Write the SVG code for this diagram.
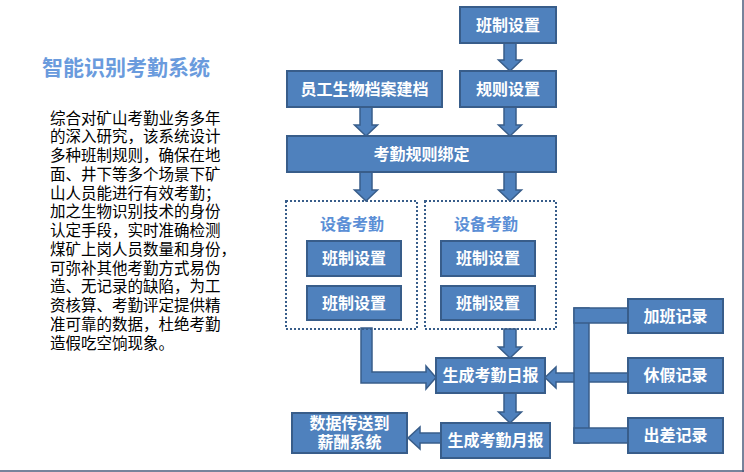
<svg xmlns="http://www.w3.org/2000/svg" width="744" height="472" viewBox="0 0 744 472">
<style>
.box{fill:#4F81BD;stroke:#385D8A;stroke-width:2}
.arr{fill:#4F81BD;stroke:#385D8A;stroke-width:1.5;stroke-linejoin:miter}
.dash{fill:none;stroke:#385D8A;stroke-width:2;stroke-dasharray:2 2}
.t{font-family:"Liberation Sans","Noto Sans CJK SC",sans-serif;font-size:16px;font-weight:bold;fill:#ffffff;text-anchor:middle;dominant-baseline:central}
.lbl{font-family:"Liberation Sans","Noto Sans CJK SC",sans-serif;font-size:16px;font-weight:bold;fill:#5B8FD6;text-anchor:middle;dominant-baseline:central}
.title{font-family:"Liberation Sans","Noto Sans CJK SC",sans-serif;font-size:21px;font-weight:bold;fill:#6A9BDD;dominant-baseline:central}
.body{font-family:"Liberation Sans","Noto Sans CJK SC",sans-serif;font-size:15.5px;fill:#000000;dominant-baseline:central}
</style>
<rect width="744" height="472" fill="#ffffff"/>
<line x1="743" y1="0" x2="743" y2="472" stroke="#4A5A7A" stroke-width="1.5"/>
<line x1="0" y1="471" x2="744" y2="471" stroke="#4A5A7A" stroke-width="1.5"/>

<g id="title">
<text class="title" x="42" y="67">智能识别考勤系统</text>
</g>
<g id="description">
<text class="body" x="50" y="118">综合对矿山考勤业务多年</text>
<text class="body" x="50" y="136.75">的深入研究，该系统设计</text>
<text class="body" x="50" y="155.5">多种班制规则，确保在地</text>
<text class="body" x="50" y="174.25">面、井下等多个场景下矿</text>
<text class="body" x="50" y="193">山人员能进行有效考勤；</text>
<text class="body" x="50" y="211.75">加之生物识别技术的身份</text>
<text class="body" x="50" y="230.5">认定手段，实时准确检测</text>
<text class="body" x="50" y="249.25">煤矿上岗人员数量和身份，</text>
<text class="body" x="50" y="268">可弥补其他考勤方式易伪</text>
<text class="body" x="50" y="286.75">造、无记录的缺陷，为工</text>
<text class="body" x="50" y="305.5">资核算、考勤评定提供精</text>
<text class="body" x="50" y="324.25">准可靠的数据，杜绝考勤</text>
<text class="body" x="50" y="343">造假吃空饷现象。</text>
</g>

<g id="connectors">
<polygon class="arr" points="504,43 516,43 516,60 521.5,60 510,71 498.5,60 504,60"/>
<polygon class="arr" points="360,107 372,107 372,125 377.5,125 366,136 354.5,125 360,125"/>
<polygon class="arr" points="504,107 516,107 516,125 521.5,125 510,136 498.5,125 504,125"/>
<polygon class="arr" points="360,172 372,172 372,190 377.5,190 366,201 354.5,190 360,190"/>
<polygon class="arr" points="504,172 516,172 516,190 521.5,190 510,201 498.5,190 504,190"/>
<polygon class="arr" points="504,329 516,329 516,347 521.5,347 510,358 498.5,347 504,347"/>
<polygon class="arr" points="504,393 516,393 516,412 521.5,412 510,423 498.5,412 504,412"/>
<polygon class="arr" points="441,433 420,433 420,427 408,438 420,449 420,443 441,443"/>
<polygon class="arr" points="361,328 372,328 372,372 426,372 426,366 436,377.5 426,389 426,383 361,383"/>
<polygon class="arr" points="628,373 556,373 556,367 545,377.5 556,388 556,382 628,382"/>
<rect class="arr" x="574" y="308" width="15" height="135"/>
<rect class="arr" x="574" y="308" width="54" height="15"/>
<rect class="arr" x="574" y="428" width="54" height="15"/>
</g>

<g id="node-banzhi-top"><rect class="box" x="460" y="7" width="96" height="36"/><text class="t" x="508" y="25">班制设置</text></g>
<g id="node-yuangong"><rect class="box" x="287" y="71" width="155" height="36"/><text class="t" x="364.5" y="89">员工生物档案建档</text></g>
<g id="node-guize"><rect class="box" x="460" y="71" width="96" height="36"/><text class="t" x="508" y="89">规则设置</text></g>
<g id="node-bangding"><rect class="box" x="287" y="136" width="269" height="36"/><text class="t" x="421.5" y="154">考勤规则绑定</text></g>

<g id="group-device-left">
<rect class="dash" x="286" y="201" width="131" height="128"/>
<text class="lbl" x="352" y="224">设备考勤</text>
<g id="node-left-1"><rect class="box" x="307" y="241" width="94" height="35"/><text class="t" x="354" y="258.5">班制设置</text></g>
<g id="node-left-2"><rect class="box" x="307" y="286" width="94" height="34"/><text class="t" x="354" y="303">班制设置</text></g>
</g>
<g id="group-device-right">
<rect class="dash" x="425" y="201" width="131" height="128"/>
<text class="lbl" x="486" y="224">设备考勤</text>
<g id="node-right-1"><rect class="box" x="441" y="241" width="94" height="35"/><text class="t" x="488" y="258.5">班制设置</text></g>
<g id="node-right-2"><rect class="box" x="441" y="286" width="94" height="34"/><text class="t" x="488" y="303">班制设置</text></g>
</g>

<g id="node-ribao"><rect class="box" x="436" y="358" width="109" height="35"/><text class="t" x="490.5" y="375.5">生成考勤日报</text></g>
<g id="node-yuebao"><rect class="box" x="441" y="423" width="109" height="35"/><text class="t" x="495.5" y="440.5">生成考勤月报</text></g>
<g id="node-shuju"><rect class="box" x="292" y="413" width="115" height="40"/><text class="t" x="349.5" y="423.5">数据传送到</text><text class="t" x="349.5" y="442">薪酬系统</text></g>
<g id="node-jiaban"><rect class="box" x="628" y="299" width="95" height="34"/><text class="t" x="675.5" y="316">加班记录</text></g>
<g id="node-xiujia"><rect class="box" x="628" y="358" width="95" height="35"/><text class="t" x="675.5" y="375.5">休假记录</text></g>
<g id="node-chuchai"><rect class="box" x="628" y="418" width="95" height="35"/><text class="t" x="675.5" y="435.5">出差记录</text></g>
</svg>
